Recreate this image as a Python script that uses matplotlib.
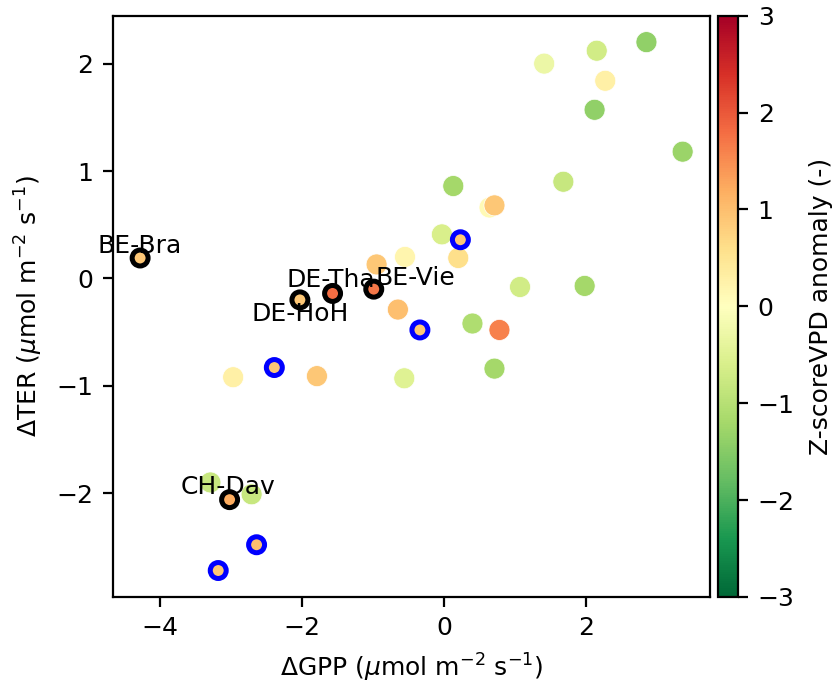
import matplotlib
matplotlib.use("Agg")
import matplotlib.pyplot as plt
import numpy as np

plt.rcParams['font.family'] = ['DejaVu Sans']
plt.rcParams['font.size'] = 9
plt.rcParams['mathtext.fontset'] = 'dejavusans'

# All sites: GPP anomaly, TER anomaly, VPD z-score anomaly
d_gpp = [1.41, 2.15, 2.85, 2.27, 2.12, 3.36, 0.13, 1.68, 0.64, 0.71,
         -0.03, 0.20, -0.55, -0.95, 1.07, -0.65, 0.40, 0.78, 0.71, -0.56,
         1.98, -2.97, -1.79, -3.29, -2.71]
d_ter = [2.00, 2.12, 2.20, 1.84, 1.57, 1.18, 0.86, 0.90, 0.66, 0.68,
         0.41, 0.19, 0.20, 0.13, -0.08, -0.29, -0.42, -0.48, -0.84, -0.93,
         -0.07, -0.92, -0.91, -1.90, -2.01]
z_vpd = [-0.3, -0.7, -1.4, 0.3, -1.4, -1.3, -1.2, -0.8, 0.1, 0.9,
         -0.6, 0.6, 0.2, 0.9, -0.7, 1.0, -1.1, 1.6, -1.2, -0.5,
         -1.2, 0.3, 0.9, -0.8, -0.8]

# Highlighted sites (black edge, labelled)
lab_names = ["BE-Bra", "DE-HoH", "DE-Tha", "BE-Vie", "CH-Dav"]
lab_gpp = [-4.28, -2.03, -1.57, -0.99, -3.02]
lab_ter = [0.19, -0.20, -0.14, -0.10, -2.06]
lab_vpd = [0.9, 0.9, 1.8, 1.7, 1.2]

# Secondary highlighted sites (blue edge)
blue_gpp = [0.23, -0.34, -2.39, -2.64, -3.18]
blue_ter = [0.36, -0.48, -0.83, -2.48, -2.72]
blue_vpd = [0.9, 0.9, 0.9, 1.0, 0.9]

# Label offsets in points (dx, dy) relative to the baseline centre
lab_offsets = [(0, 1.8), (0, -7.6), (-0.5, 2.2), (15, 1.4), (-0.5, 2.2)]

fig = plt.figure(figsize=(8.37 / 2, 6.83 / 2), dpi=200)
ax = fig.add_axes([0.135, 0.126, 0.713, 0.851])
cax = fig.add_axes([0.858, 0.126, 0.024, 0.851])

cmap = plt.get_cmap('RdYlGn_r')
norm = matplotlib.colors.Normalize(vmin=-3, vmax=3)

ax.scatter(d_gpp, d_ter, c=z_vpd, cmap=cmap, norm=norm, s=57,
           edgecolors='white', linewidths=0.25, zorder=2)
ax.scatter(blue_gpp, blue_ter, c=blue_vpd, cmap=cmap, norm=norm, s=33,
           edgecolors='blue', linewidths=1.8, zorder=3)
ax.scatter(lab_gpp, lab_ter, c=lab_vpd, cmap=cmap, norm=norm, s=33,
           edgecolors='black', linewidths=1.8, zorder=3)

for name, x, y, off in zip(lab_names, lab_gpp, lab_ter, lab_offsets):
    ax.annotate(name, (x, y), xytext=off, textcoords='offset points',
                ha='center', va='baseline', zorder=4)

ax.set_xticks([-4, -2, 0, 2])
ax.set_yticks([-2, -1, 0, 1, 2])
ax.set_xlabel(r'$\Delta$GPP ($\mu$mol m$^{-2}$ s$^{-1}$)')
ax.set_ylabel(r'$\Delta$TER ($\mu$mol m$^{-2}$ s$^{-1}$)')

cb = fig.colorbar(matplotlib.cm.ScalarMappable(norm=norm, cmap=cmap), cax=cax)
cb.set_label('Z-scoreVPD anomaly (-)', labelpad=5)
cb.set_ticks([-3, -2, -1, 0, 1, 2, 3])

fig.savefig('out.png', dpi=200)
